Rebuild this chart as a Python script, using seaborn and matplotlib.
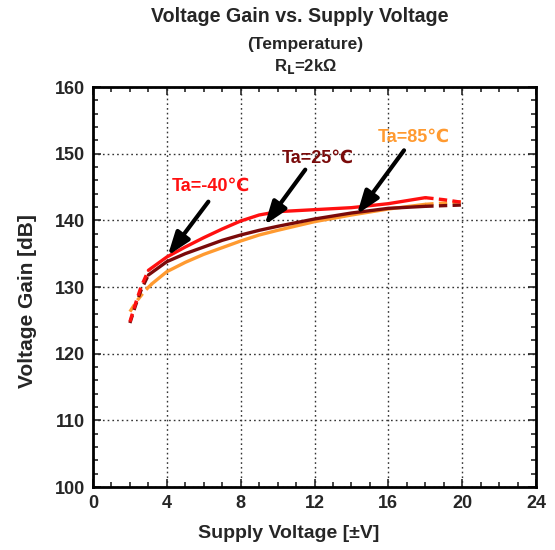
import numpy as np
import pandas as pd
import matplotlib
matplotlib.use("Agg")
import matplotlib.pyplot as plt
import seaborn as sns

# values
temps = ["Ta=-40℃", "Ta=25℃", "Ta=85℃"]
colors = ["#FF1010", "#7A0A0A", "#FF9A30"]

# Ta=-40
m40_low_v = [2.0, 2.3, 2.6, 3.0]
m40_low_g = [124.8, 127.5, 130.0, 132.5]
m40_v = [3.0, 4.0, 5.0, 6.0, 7.0, 8.0, 9.0, 10.0, 12.0, 14.0, 16.0, 18.0]
m40_g = [132.5, 134.5, 136.0, 137.4, 138.7, 139.9, 140.8, 141.3, 141.6, 141.9, 142.5, 143.4]
m40_high_v = [18.0, 19.0, 20.0]
m40_high_g = [143.4, 143.1, 142.7]

# Ta=25
p25_low_v = [2.0, 2.3, 2.6, 3.0]
p25_low_g = [124.6, 127.2, 129.5, 131.8]
p25_v = [3.0, 4.0, 5.0, 6.0, 7.0, 8.0, 9.0, 10.0, 12.0, 14.0, 16.0, 18.0]
p25_g = [131.8, 133.8, 135.0, 136.0, 137.0, 137.8, 138.5, 139.1, 140.2, 141.1, 141.8, 142.1]
p25_high_v = [18.0, 19.0, 20.0]
p25_high_g = [142.1, 142.2, 142.3]

# Ta=85
p85_low_v = [2.0, 2.4, 2.8, 3.2]
p85_low_g = [126.3, 128.0, 129.4, 130.5]
p85_v = [3.2, 4.0, 5.0, 6.0, 7.0, 8.0, 9.0, 10.0, 12.0, 14.0, 16.0, 18.0]
p85_g = [130.5, 132.3, 133.7, 134.9, 135.9, 136.9, 137.8, 138.5, 139.8, 140.8, 141.7, 142.4]
p85_high_v = [18.0, 19.0, 20.0]
p85_high_g = [142.4, 142.6, 142.8]

# annotation: text pos, arrow tail, arrow head
label_xy = [(6.4, 145.1), (12.2, 149.3), (17.4, 152.5)]
tail_xy = [(6.25, 142.8), (11.5, 147.6), (16.85, 150.5)]
head_xy = [(4.05, 134.7), (9.3, 139.3), (14.3, 140.9)]

sns.set_style("ticks")
plt.rcParams["font.family"] = ["Liberation Sans", "DejaVu Sans"]
plt.rcParams["font.weight"] = "bold"

fig = plt.figure(figsize=(5.55, 5.5), dpi=100)
ax = fig.add_axes([93 / 555, 1 - 487 / 550, 443 / 555, 400 / 550])

series = [
    (m40_low_v, m40_low_g, m40_v, m40_g, m40_high_v, m40_high_g),
    (p25_low_v, p25_low_g, p25_v, p25_g, p25_high_v, p25_high_g),
    (p85_low_v, p85_low_g, p85_v, p85_g, p85_high_v, p85_high_g),
]

# draw hotter first so -40 sits on top
for i in [2, 1, 0]:
    lv, lg, sv, sg, hv, hg = series[i]
    c = colors[i]
    sns.lineplot(x=lv, y=lg, ax=ax, color=c, lw=2.4, linestyle=(0, (2.5, 1.6)), sort=False)
    sns.lineplot(x=sv, y=sg, ax=ax, color=c, lw=2.4, sort=False)
    sns.lineplot(x=hv, y=hg, ax=ax, color=c, lw=2.4, linestyle=(0, (2.5, 1.6)), sort=False)

for i in range(3):
    ax.annotate("", xy=head_xy[i], xytext=tail_xy[i],
                arrowprops=dict(arrowstyle="-|>,head_length=1.4,head_width=0.5",
                                color="black", lw=3, shrinkA=0, shrinkB=0))
    ax.text(label_xy[i][0], label_xy[i][1], temps[i], color=colors[i],
            fontsize=13, fontweight="bold", ha="center", va="center")

ax.set_xlim(0, 24)
ax.set_ylim(100, 160)
ax.set_xticks(np.arange(0, 25, 4))
ax.set_yticks(np.arange(100, 161, 10))
ax.set_xticks(np.arange(0, 25, 1), minor=True)
ax.set_yticks(np.arange(100, 161, 2), minor=True)
ax.grid(True, which="major", color="#333333", linestyle=(0, (1.2, 2.2)), lw=1.0)
ax.tick_params(which="both", direction="in", top=True, right=True, width=1.2)
ax.tick_params(which="major", length=6, labelsize=13, pad=6)
ax.tick_params(which="minor", length=3.5)
for s in ax.spines.values():
    s.set_linewidth(2)
    s.set_color("black")
for lab in ax.get_xticklabels() + ax.get_yticklabels():
    lab.set_fontweight("bold")

ax.set_xlabel("Supply Voltage [±V]", fontsize=14, fontweight="bold")
ax.set_ylabel("Voltage Gain [dB]", fontsize=15, fontweight="bold")
ax.xaxis.set_label_coords(0.442, -0.095)
ax.yaxis.set_label_coords(-0.127, 0.465)

fig.text(300 / 555, 1 - 17 / 550, "Voltage Gain vs. Supply Voltage", ha="center", va="center",
         fontsize=14.1, fontweight="bold")
fig.text(305 / 555, 1 - 45 / 550, "(Temperature)", ha="center", va="center",
         fontsize=12.5, fontweight="bold")
fig.text(305 / 555, 1 - 67 / 550, r"R$_{\mathbf{L}}$=2kΩ", ha="center", va="center",
         fontsize=12, fontweight="bold")

fig.savefig("out.png", dpi=100)
